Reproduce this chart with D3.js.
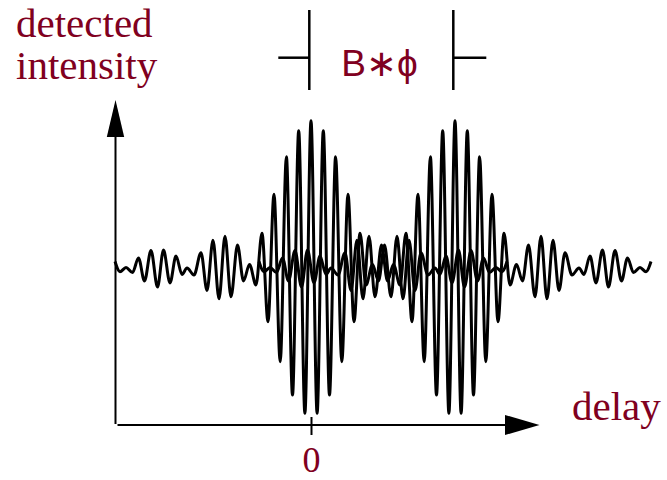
<!DOCTYPE html>
<html>
<head>
<meta charset="utf-8">
<script src="https://cdn.jsdelivr.net/npm/d3@7/dist/d3.min.js"></script>
<style>
  html, body { margin: 0; padding: 0; background: #fff; }
  svg { display: block; }
</style>
</head>
<body>
<svg id="chart" width="667" height="480"></svg>
<script>
// Delays of the two fringe packets (one per source component)
const packetDelays = [0, 144];

// One fringe packet: delay offset from its centre and detected intensity (extrema)
const fringeOffset = [
  -196, -191, -185, -178.5, -172.5, -166.5, -160, -153.5, -147.5, -141, -135, -129, -124, -117,
  -110, -104, -98, -92, -86, -80, -73.5, -67.5, -61.5, -55, -49, -43, -37, -30.8, -24.6,
  -18.5, -12.3, -6.1, 0, 6.1, 12.3, 18.5, 24.6, 30.8, 37, 43, 49, 55, 61.5, 67.5, 73.5,
  80, 86, 92, 98, 104, 110, 117, 124, 129, 135, 141, 147.5, 153.5, 160, 166.5, 172.5,
  178.5, 185, 191, 196
];
const fringeIntensity = [
  6.5, -3.7, 0.5, -4.5, 10, -13, 17.5, -19, 18, -15, 12, -6.5, 0, -7,
  15.3, -22.5, 27.7, -30.8, 31.7, -28.7, 23, -13, 3.5, -17, 34.7, -53.7, 73.7, -93.7, 111.3,
  -127, 137.3, -145.3, 147.3, -145.3, 137.3, -127, 111.3, -93.7, 73.7, -53.7, 34.7, -17, 3.5, -13, 23,
  -28.7, 31.7, -30.8, 27.7, -22.5, 15.3, -7, 0, -6.5, 12, -15, 18, -19, 17.5, -13, 10,
  -4.5, 0.5, -3.7, 6.5
];

// Axis tick values and labels
const tickValues = [0];
const tickLabels = ["0"];
const yLabelLines = ["detected", "intensity"];
const xLabel = "delay";
const separationLabel = "B\u2217\u03D5";

const labelColor = "#800020";
const serif = "'Liberation Serif', 'Times New Roman', serif";
const sans = "'Liberation Sans', Arial, sans-serif";

const svg = d3.select("#chart");

const x = d3.scaleLinear().domain([-195, 230]).range([116, 541]);
const y = d3.scaleLinear().domain([-156, 168]).range([424, 100]);

const profile = fringeOffset.map((o, i) => ({ o, v: fringeIntensity[i] }));

// Fringe traces, one per packet
packetDelays.forEach(delay => {
  const line = d3.line()
    .x(d => x(delay + d.o))
    .y(d => y(d.v))
    .curve(d3.curveMonotoneX);
  svg.append("path")
    .attr("d", line(profile))
    .attr("fill", "none")
    .attr("stroke", "#000")
    .attr("stroke-width", 3)
    .attr("stroke-linejoin", "round");
});

// Axes with arrowheads
const x0 = x.range()[0] - 0.5;
const yBase = y.range()[0];
svg.append("line")
  .attr("x1", x0).attr("y1", yBase)
  .attr("x2", x0).attr("y2", y.range()[1] + 30)
  .attr("stroke", "#000").attr("stroke-width", 2);
svg.append("path")
  .attr("d", `M${x0},${y.range()[1]} L${x0 - 8.7},${y.range()[1] + 37} L${x0 + 8.7},${y.range()[1] + 37} Z`)
  .attr("fill", "#000");

svg.append("line")
  .attr("x1", x0 + 2).attr("y1", yBase + 1)
  .attr("x2", x.range()[1] - 30).attr("y2", yBase + 1)
  .attr("stroke", "#000").attr("stroke-width", 2);
svg.append("path")
  .attr("d", `M${x.range()[1] - 1.5},${yBase + 1} L${x.range()[1] - 36},${yBase - 9} L${x.range()[1] - 36},${yBase + 11} Z`)
  .attr("fill", "#000");

const xAxis = d3.axisBottom(x)
  .tickValues(tickValues)
  .tickSize(10)
  .tickFormat((d, i) => tickLabels[i]);
const gx = svg.append("g")
  .attr("transform", `translate(0,${yBase + 1})`)
  .call(xAxis);
gx.select(".domain").remove();
gx.selectAll(".tick line")
  .attr("y1", -8).attr("y2", 10)
  .attr("stroke", "#000").attr("stroke-width", 2);
gx.selectAll(".tick text")
  .attr("y", 47).attr("dy", null)
  .attr("font-family", serif)
  .attr("font-size", 36)
  .attr("fill", labelColor);

// Axis titles
svg.append("text")
  .attr("font-family", serif).attr("font-size", 41).attr("fill", labelColor)
  .selectAll("tspan").data(yLabelLines).join("tspan")
  .attr("x", 16)
  .attr("y", (d, i) => 37 + i * 42)
  .text(d => d);

svg.append("text")
  .attr("x", 572).attr("y", 419.5)
  .attr("font-family", serif).attr("font-size", 41).attr("fill", labelColor)
  .text(xLabel);

// Packet separation marker
const markTop = 10, markBottom = 90, markMid = 57.7;
[0, 1].forEach(k => {
  const px = x(packetDelays[k]) - 1.7;
  svg.append("line")
    .attr("x1", px).attr("y1", markTop).attr("x2", px).attr("y2", markBottom)
    .attr("stroke", "#000").attr("stroke-width", 2.5);
  svg.append("line")
    .attr("x1", k === 0 ? px - 31 : px).attr("y1", markMid)
    .attr("x2", k === 0 ? px : px + 33).attr("y2", markMid)
    .attr("stroke", "#000").attr("stroke-width", 2.5);
});

svg.append("text")
  .attr("x", (x(packetDelays[0]) + x(packetDelays[1])) / 2 - 3.5)
  .attr("y", 76)
  .attr("text-anchor", "middle")
  .attr("font-family", sans).attr("font-size", 37).attr("fill", labelColor)
  .text(separationLabel);
</script>
</body>
</html>
